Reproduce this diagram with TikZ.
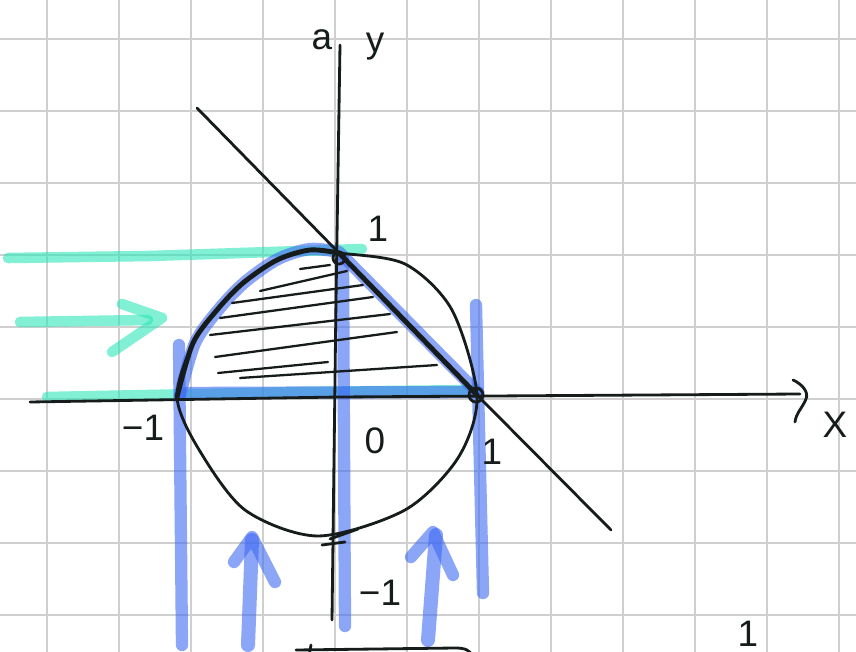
\documentclass[tikz,border=0pt]{standalone}
\usepackage{fontspec}
\setmainfont{Liberation Sans}
\usetikzlibrary{calc}
\definecolor{gridline}{HTML}{CFCFCF}
\definecolor{ink}{HTML}{161C1C}
\definecolor{marker}{HTML}{3F6AF2}
\definecolor{mint}{HTML}{2EE6B8}
\begin{document}
\begin{tikzpicture}[x=0.02cm,y=-0.02cm,line cap=round,line join=round,
  every node/.style={font=\fontsize{21}{23}\selectfont,text=ink},
  pen/.style={draw=ink,line width=1.6pt},
  hl/.style={draw=marker,opacity=.6,line width=7pt},
  hlmint/.style={draw=mint,opacity=.6,line width=6pt}]
\useasboundingbox (0,0) rectangle (856,652);
\fill[white] (0,0) rectangle (856,652);
% grid
\foreach \gx in {0,...,11} \draw[gridline,line width=1.1pt] (47+72*\gx,0) -- (47+72*\gx,652);
\foreach \gy in {0,...,8} \draw[gridline,line width=1.1pt] (0,39+72*\gy) -- (856,39+72*\gy);
\coordinate (L) at (177,397);
\coordinate (T) at (339,253);
\coordinate (R) at (477,395);
% mint marker
\draw[hlmint] (8,258) -- (150,256) -- (362,249);
\draw[hlmint] (20,322) -- (148,320);
\draw[hlmint] (122,304) -- (162,318) -- (112,352);
\draw[hlmint] (47,397) -- (300,392) -- (476,390);
% blue marker
\draw[hl] (179,345) -- (182,645);
\draw[hl] (343,258) -- (345,626);
\draw[hl] (476,305) -- (483,593);
\draw[hl] plot[smooth] coordinates {(180,395) (195,343) (219,309) (245,282) (278,259) (310,249) (339,252)} -- (478,393);
\draw[hl] (182,393) -- (478,392);
\draw[hl,line width=8pt] (248,645) -- (252,540);
\draw[hl] (234,562) -- (252,537) -- (275,582);
\draw[hl,line width=8pt] (428,640) -- (436,535);
\draw[hl] (411,557) -- (433,532) -- (453,575);
% axes
\draw[pen] (30,402) -- (339,397) -- (800,394);
\draw[pen] (793,380) .. controls (802,384) and (809,392) .. (806,399) .. controls (803,407) and (796,413) .. (795,422);
\draw[pen] (340,45) -- (336,300) -- (332,620);
% line and circle
\draw[pen] (197,108) -- (T) -- (R) -- (611,530);
\draw[pen] plot[smooth cycle] coordinates {(339,253) (405,264) (452,310) (477,396) (458,458) (405,510) (318,536) (245,510) (198,448) (177,397) (193,343) (217,310) (243,283) (277,260) (310,250)};
\draw[draw=ink,line width=2.8pt] plot[smooth] coordinates {(L) (193,343) (217,310) (243,283) (277,260) (310,250) (T)} -- (R);
\draw[pen] (339,258) circle (6);
\draw[pen] (476,395) circle (7);
% hatching
\foreach \a/\b/\c/\d in {300/269/330/265, 260/291/347/271, 232/303/363/285, 220/318/373/297, 210/335/390/314, 215/357/397/332, 218/373/328/362, 240/378/437/365}
  \draw[pen,line width=1.3pt] (\a,\b) -- (\c,\d);
% ticks
\draw[pen] (322,545) -- (345,542);
\draw[pen] (330,539) -- (358,529);
\draw[pen] (296,650) -- (455,648) .. controls (465,648) and (470,650) .. (472,656);
\draw[pen] (311,645) -- (309,656);
% labels
\node (yscr) at (322,40) {a};
\node (ylab) at (375,47) {y};
\node (one) at (378,229) {1};
\node (mone) at (143,428) {−1};
\node (zero) at (375,441) {0};
\node (onex) at (492,452) {1};
\node (money) at (380,593) {−1};
\node (xlab) at (835,425) {X};
\node (cut) at (748,634) {1};
\end{tikzpicture}
\end{document}
